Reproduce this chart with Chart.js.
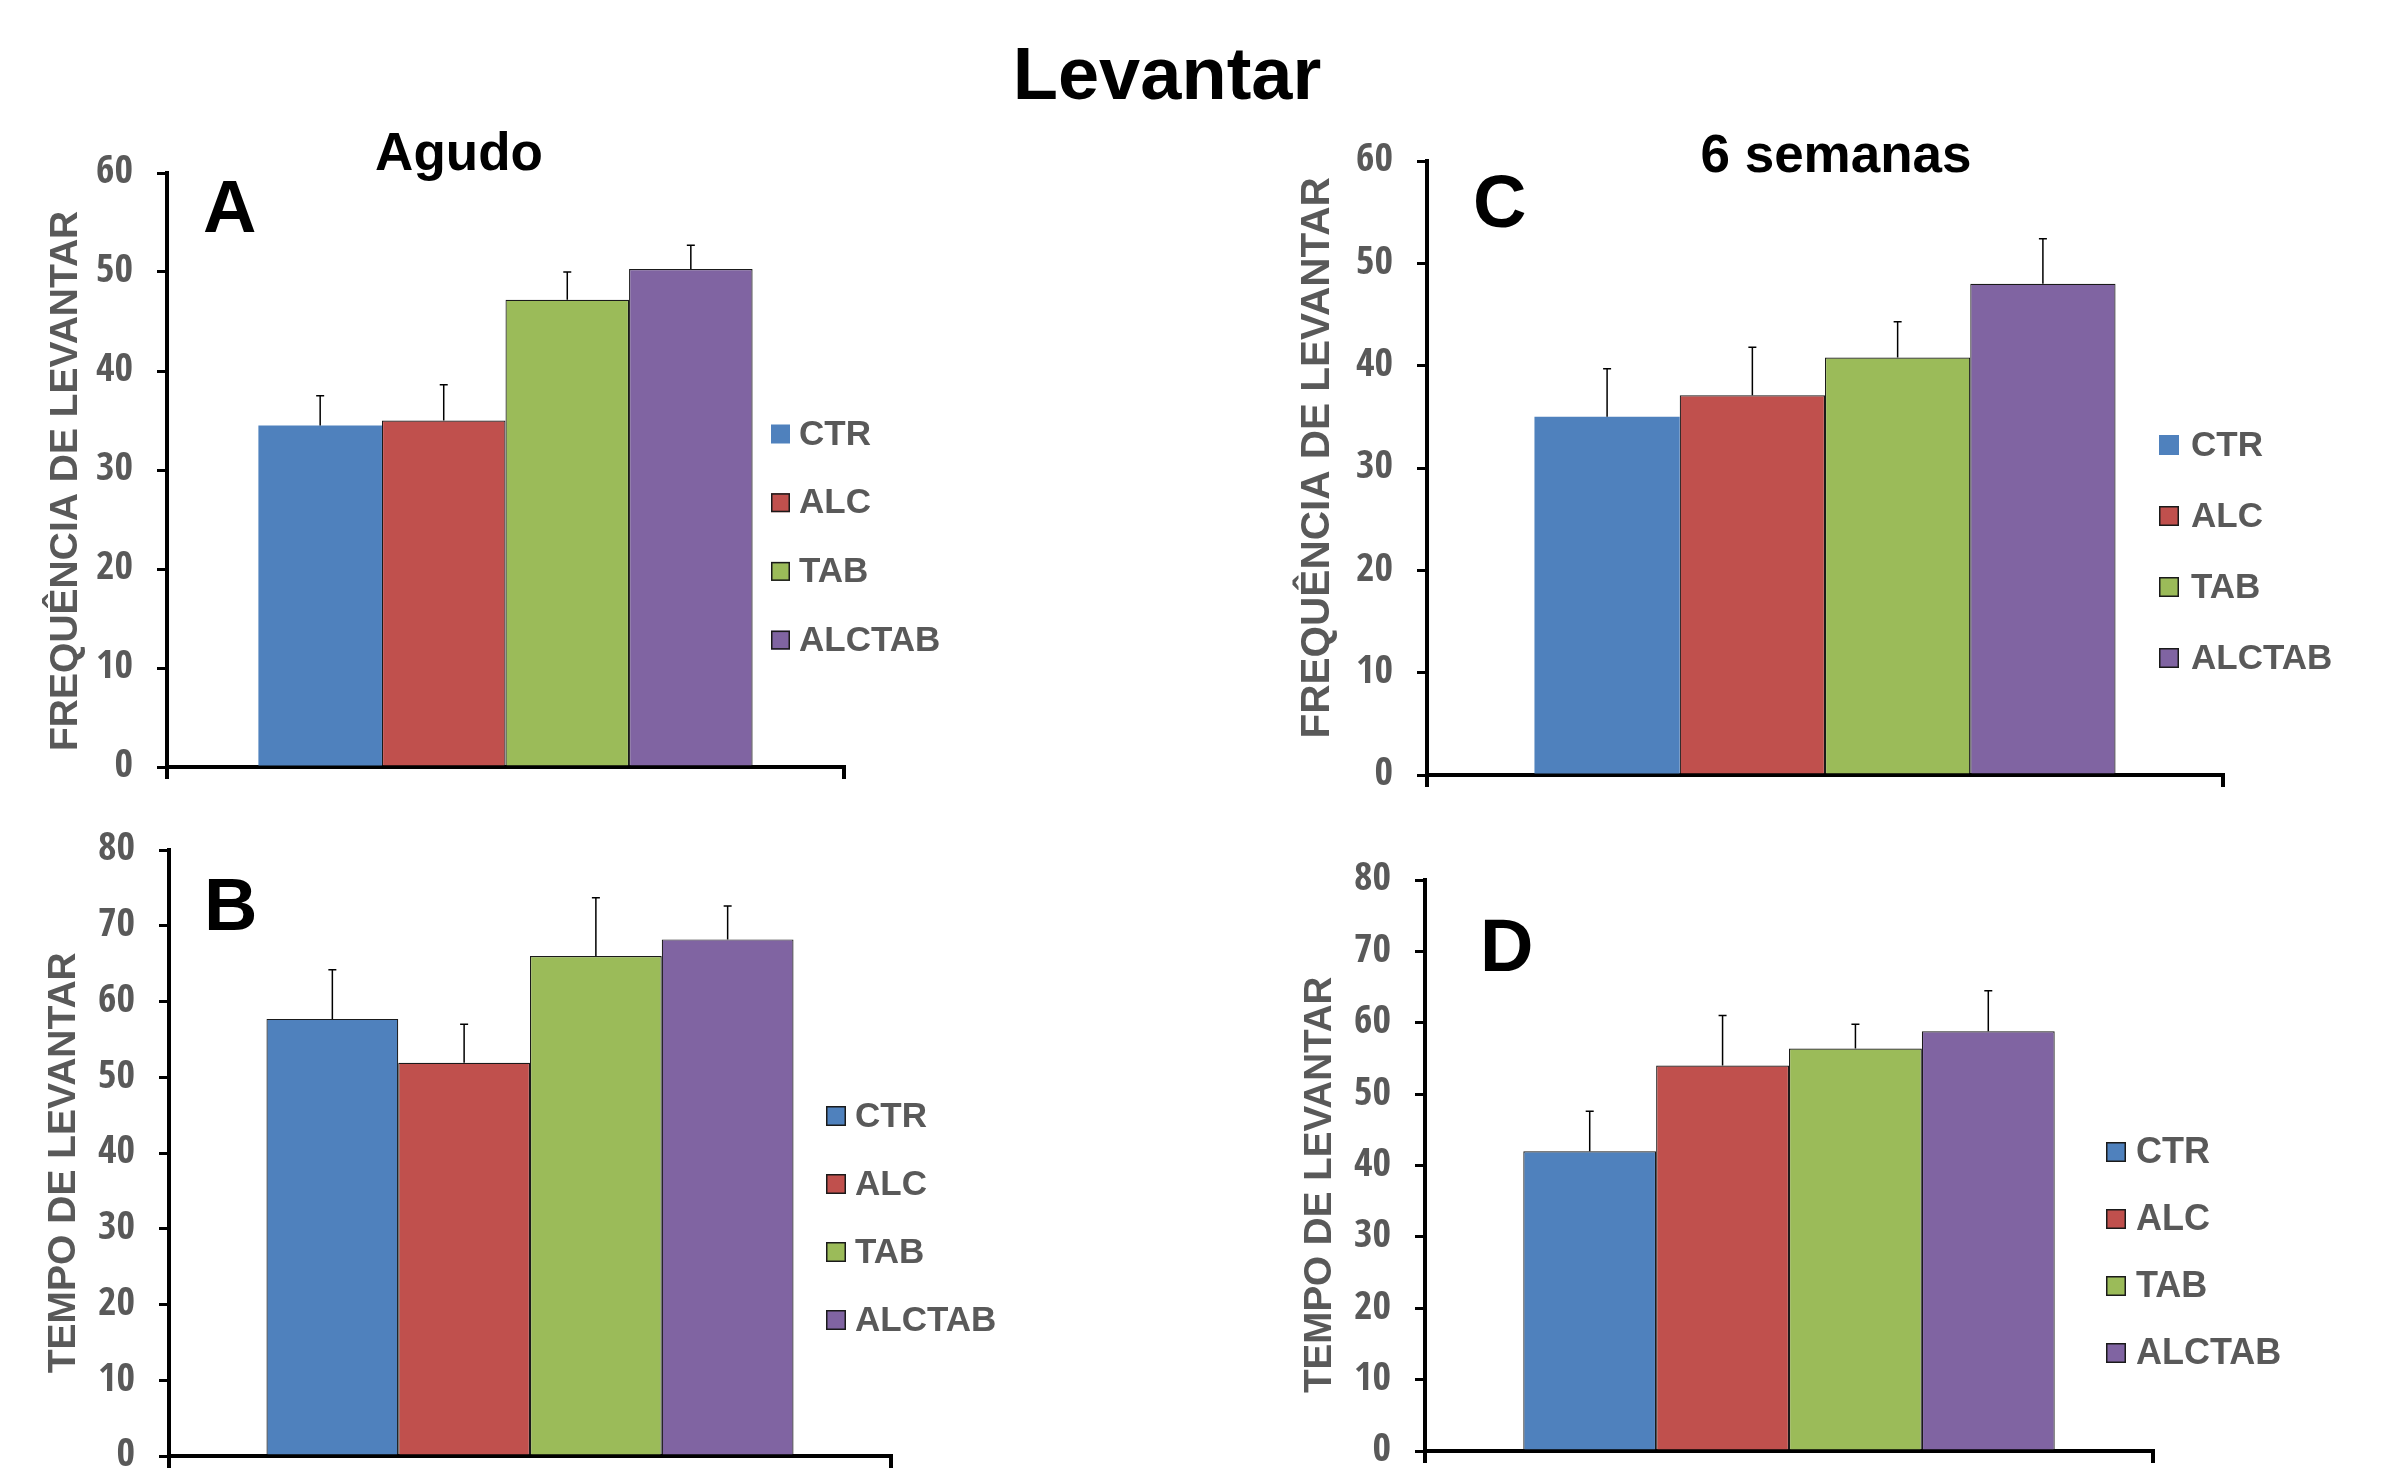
<!DOCTYPE html>
<html>
<head>
<meta charset="utf-8">
<script src="https://cdn.jsdelivr.net/npm/chart.js@4/dist/chart.umd.min.js"></script>
<style>
  html, body { margin: 0; padding: 0; background: #fff; overflow: hidden; }
  #page { width: 2382px; height: 1470px; position: relative; overflow: hidden; font-family: 'Liberation Sans', Arial, sans-serif; }
  .txt { position: absolute; font-weight: bold; color: #000; white-space: nowrap; line-height: 1; }
  .panel { position: absolute; line-height: 0; }
</style>
</head>
<body>
<div id="page">
<div class="txt" id="mainTitle" style="left:0; width:2334px; text-align:center; top:37px; font-size:74px;">Levantar</div>
<div class="txt" style="left:259px; width:400px; text-align:center; top:125px; font-size:53px;">Agudo</div>
<div class="txt" style="left:1636px; width:400px; text-align:center; top:127px; font-size:53px;">6 semanas</div>
<div class="txt" style="left:203px; top:170px; font-size:74px;">A</div>
<div class="txt" style="left:204px; top:868px; font-size:74px;">B</div>
<div class="txt" style="left:1473px; top:165px; font-size:74px;">C</div>
<div class="txt" style="left:1480px; top:909px; font-size:74px;">D</div>

<div class="panel" style="left:0px; top:140px;"><canvas id="cA" width="1100" height="670"></canvas></div>
<div class="panel" style="left:0px; top:810px;"><canvas id="cB" width="1100" height="660"></canvas></div>
<div class="panel" style="left:1250px; top:120px;"><canvas id="cC" width="1132" height="690"></canvas></div>
<div class="panel" style="left:1250px; top:830px;"><canvas id="cD" width="1132" height="640"></canvas></div>
</div>
<script>
// ---------- DATA ----------
const groups = ['CTR', 'ALC', 'TAB', 'ALCTAB'];
const groupColors = ['#4F81BD', '#C0504D', '#9BBB59', '#8064A2'];

const freqAgudo      = [34.5, 35.0, 47.2, 50.3];
const freqAgudoErr   = [3.0, 3.6, 2.8, 2.4];
const tempoAgudo     = [57.7, 51.9, 66.0, 68.2];
const tempoAgudoErr  = [6.5, 5.1, 7.7, 4.4];
const freq6sem       = [35.0, 37.1, 40.8, 48.0];
const freq6semErr    = [4.7, 4.7, 3.5, 4.4];
const tempo6sem      = [42.0, 54.0, 56.4, 58.8];
const tempo6semErr   = [5.6, 7.0, 3.4, 5.7];

const freqTitle  = 'FREQUÊNCIA DE LEVANTAR';
const tempoTitle = 'TEMPO DE LEVANTAR';

// ---------- PLUGINS ----------
const errorBars = {
  id: 'errorBars',
  afterDatasetsDraw(chart) {
    const ctx = chart.ctx, y = chart.scales.y;
    ctx.save();
    ctx.strokeStyle = '#000';
    ctx.lineWidth = 1.5;
    chart.data.datasets.forEach((ds, i) => {
      const meta = chart.getDatasetMeta(i);
      meta.data.forEach((bar, j) => {
        const top = y.getPixelForValue(ds.data[j] + ds.errors[j]);
        ctx.beginPath();
        ctx.moveTo(bar.x, bar.y);
        ctx.lineTo(bar.x, top);
        ctx.moveTo(bar.x - 4, top);
        ctx.lineTo(bar.x + 4, top);
        ctx.stroke();
      });
    });
    ctx.restore();
  }
};

const sideLegend = {
  id: 'sideLegend',
  afterDraw(chart, args, o) {
    const ctx = chart.ctx;
    ctx.save();
    ctx.font = 'bold ' + o.fontSize + 'px "Liberation Sans", Arial, sans-serif';
    ctx.textBaseline = 'middle';
    ctx.textAlign = 'left';
    chart.data.datasets.forEach((ds, i) => {
      const cy = o.y + i * o.gap;
      ctx.fillStyle = ds.backgroundColor;
      ctx.fillRect(o.x, cy - o.box / 2, o.box, o.box);
      if (ds.borderWidth > 0) {
        ctx.strokeStyle = '#1a1a1a';
        ctx.lineWidth = 1.5;
        ctx.strokeRect(o.x + 0.75, cy - o.box / 2 + 0.75, o.box - 1.5, o.box - 1.5);
      }
      ctx.fillStyle = '#595959';
      ctx.fillText(ds.label, o.textX, cy + 1);
    });
    ctx.restore();
  }
};

const tickFont = { family: "'Open Sans Condensed', 'Roboto Condensed', sans-serif", size: 40, weight: 'bold' };

// ---------- BUILDER ----------
function makePanel(id, values, errs, yMax, title, g) {
  const datasets = groups.map((name, i) => ({
    label: name,
    data: [values[i]],
    errors: [errs[i]],
    backgroundColor: groupColors[i],
    borderColor: '#1a1a1a',
    borderWidth: (g.noBlueBorder && i === 0) ? 0 : 1.2,
    categoryPercentage: 0.73,
    barPercentage: 1.0
  }));
  new Chart(document.getElementById(id), {
    type: 'bar',
    data: { labels: [''], datasets },
    plugins: [errorBars, sideLegend],
    options: {
      responsive: false,
      animation: false,
      devicePixelRatio: 1,
      layout: { padding: { left: 0, top: g.top, right: g.right, bottom: g.bottom } },
      plugins: { legend: { display: false }, tooltip: { enabled: false }, sideLegend: g.legend },
      scales: {
        x: {
          type: 'category',
          ticks: { display: false },
          grid: { display: true, drawOnChartArea: false, drawTicks: true, tickLength: 12, color: '#000', lineWidth: 4 },
          border: { display: true, color: '#000', width: 4 },
          afterFit: s => { s.height = g.xh; s.paddingLeft = 0; s.paddingRight = 0; }
        },
        y: {
          min: 0, max: yMax,
          ticks: { stepSize: 10, padding: 24, color: '#595959', font: tickFont },
          grid: { display: true, drawOnChartArea: false, drawTicks: true, tickLength: 10, color: '#000', lineWidth: 3 },
          border: { display: true, color: '#000', width: 4 },
          title: {
            display: true,
            text: g.titleLead + title + g.titleTrail,
            color: '#595959',
            font: { family: "'Liberation Sans', Arial, sans-serif", size: g.titleSize, weight: 'bold', lineHeight: 1.2 },
            padding: { top: g.titlePad, bottom: 0 }
          },
          afterFit: s => { s.width = g.yw; s.paddingTop = 0; s.paddingBottom = 0; }
        }
      }
    }
  });
}

makePanel('cA', freqAgudo, freqAgudoErr, 60, freqTitle, {
  top: 33, right: 256, bottom: 23, xh: 20, yw: 167, noBlueBorder: true,
  titleSize: 39, titlePad: 43, titleLead: '', titleTrail: '  ',
  legend: { x: 771, y: 294, gap: 68.7, box: 19, textX: 799, fontSize: 35 }
});
makePanel('cB', tempoAgudo, tempoAgudoErr, 80, tempoTitle, {
  top: 40, right: 209, bottom: 2, xh: 12, yw: 169,
  titleSize: 39, titlePad: 41, titleLead: '', titleTrail: '\u2002',
  legend: { x: 826, y: 306, gap: 68, box: 20, textX: 855, fontSize: 35 }
});
makePanel('cC', freq6sem, freq6semErr, 60, freqTitle, {
  top: 41, right: 159, bottom: 15, xh: 20, yw: 177, noBlueBorder: true,
  titleSize: 40.5, titlePad: 43.5, titleLead: '\u2002', titleTrail: '',
  legend: { x: 909, y: 325, gap: 71, box: 20, textX: 941, fontSize: 35 }
});
makePanel('cD', tempo6sem, tempo6semErr, 80, tempoTitle, {
  top: 50, right: 229, bottom: 7, xh: 12, yw: 175,
  titleSize: 38.6, titlePad: 47.5, titleLead: '', titleTrail: '\u2002\u2002',
  legend: { x: 856, y: 322, gap: 67, box: 20, textX: 886, fontSize: 36 }
});
</script>
</body>
</html>
